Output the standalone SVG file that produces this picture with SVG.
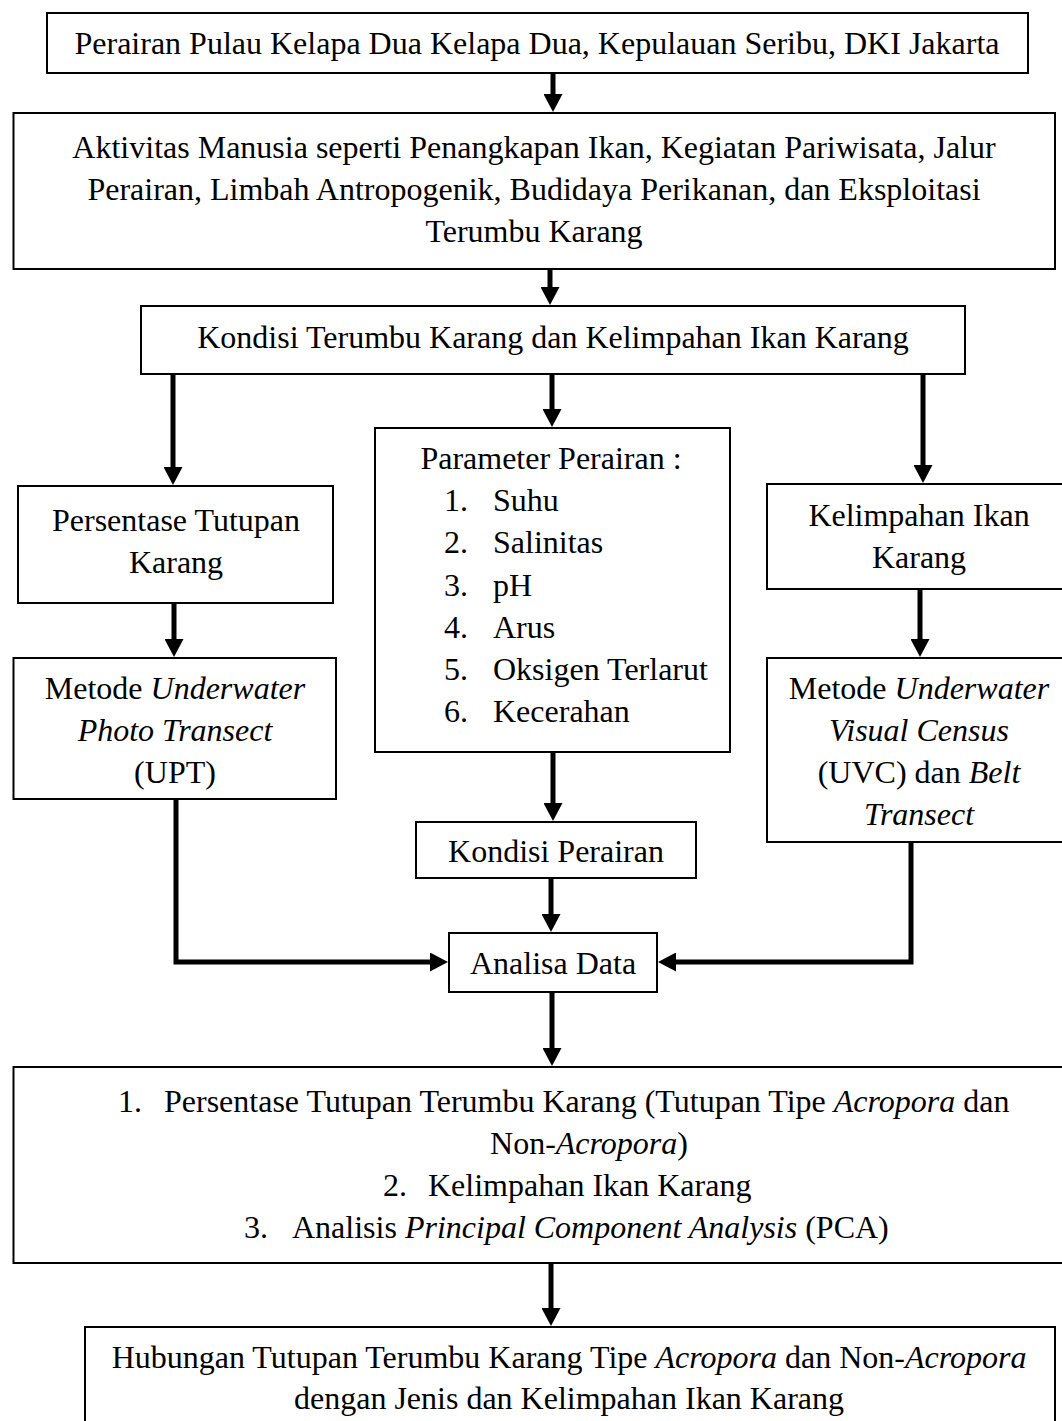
<svg xmlns="http://www.w3.org/2000/svg" width="1062" height="1421" viewBox="0 0 1062 1421">
<style>
.box{fill:#fff;stroke:#000;stroke-width:2}
text{font-family:"Liberation Serif","Times New Roman",serif;font-size:32px;fill:#000}
.c{text-anchor:middle}
.i{font-style:italic}
.con{fill:none;stroke:#000;stroke-width:5}
</style>
<defs>
<marker id="ah" markerUnits="userSpaceOnUse" markerWidth="18" markerHeight="19" refX="0" refY="9.5" orient="auto" viewBox="0 0 18 19">
<path d="M0,0 L18,9.5 L0,19 z" fill="#000"/>
</marker>
</defs>
<rect width="1062" height="1421" fill="#fff"/>
<g id="connectors">
<path class="con" marker-end="url(#ah)" d="M553,73 V94"/>
<path class="con" marker-end="url(#ah)" d="M550,269 V287"/>
<path class="con" marker-end="url(#ah)" d="M173,374 V467"/>
<path class="con" marker-end="url(#ah)" d="M552,374 V409"/>
<path class="con" marker-end="url(#ah)" d="M923,374 V465"/>
<path class="con" marker-end="url(#ah)" d="M174,603 V639"/>
<path class="con" marker-end="url(#ah)" d="M920,589 V639"/>
<path class="con" marker-end="url(#ah)" d="M553,752 V803"/>
<path class="con" marker-end="url(#ah)" d="M551,878 V914"/>
<path class="con" marker-end="url(#ah)" d="M176,799 V962 H430"/>
<path class="con" marker-end="url(#ah)" d="M911,842 V962 H676"/>
<path class="con" marker-end="url(#ah)" d="M552,992 V1048"/>
<path class="con" marker-end="url(#ah)" d="M551,1263 V1308"/>
</g>
<g id="n1">
<rect class="box" x="47" y="13" width="981" height="60"/>
<text class="c" x="537" y="54">Perairan Pulau Kelapa Dua Kelapa Dua, Kepulauan Seribu, DKI Jakarta</text>
</g>
<g id="n2">
<rect class="box" x="13.5" y="113" width="1041.5" height="156"/>
<text class="c" x="534" y="158">Aktivitas Manusia seperti Penangkapan Ikan, Kegiatan Pariwisata, Jalur</text>
<text class="c" x="534" y="200">Perairan, Limbah Antropogenik, Budidaya Perikanan, dan Eksploitasi</text>
<text class="c" x="534" y="242">Terumbu Karang</text>
</g>
<g id="n3">
<rect class="box" x="141" y="306" width="824" height="68"/>
<text class="c" x="553" y="348">Kondisi Terumbu Karang dan Kelimpahan Ikan Karang</text>
</g>
<g id="n4">
<rect class="box" x="18" y="486" width="315" height="117"/>
<text class="c" x="176" y="531">Persentase Tutupan</text>
<text class="c" x="176" y="573">Karang</text>
</g>
<g id="n5">
<rect class="box" x="375" y="428" width="355" height="324"/>
<text class="c" x="551" y="469">Parameter Perairan :</text>
<text x="444" y="511">1.</text><text x="493" y="511">Suhu</text>
<text x="444" y="553">2.</text><text x="493" y="553">Salinitas</text>
<text x="444" y="596">3.</text><text x="493" y="596">pH</text>
<text x="444" y="638">4.</text><text x="493" y="638">Arus</text>
<text x="444" y="680">5.</text><text x="493" y="680">Oksigen Terlarut</text>
<text x="444" y="722">6.</text><text x="493" y="722">Kecerahan</text>
</g>
<g id="n6">
<rect class="box" x="767" y="484" width="300" height="105"/>
<text class="c" x="919" y="526">Kelimpahan Ikan</text>
<text class="c" x="919" y="568">Karang</text>
</g>
<g id="n7">
<rect class="box" x="13.5" y="658" width="322.5" height="141"/>
<text class="c" x="175" y="699">Metode <tspan class="i">Underwater</tspan></text>
<text class="c i" x="175" y="741">Photo Transect</text>
<text class="c" x="175" y="783">(UPT)</text>
</g>
<g id="n8">
<rect class="box" x="767" y="658" width="300" height="184"/>
<text class="c" x="919" y="699">Metode <tspan class="i">Underwater</tspan></text>
<text class="c i" x="919" y="741">Visual Census</text>
<text class="c" x="919" y="783">(UVC) dan <tspan class="i">Belt</tspan></text>
<text class="c i" x="919" y="825">Transect</text>
</g>
<g id="n9">
<rect class="box" x="416" y="822" width="280" height="56"/>
<text class="c" x="556" y="862">Kondisi Perairan</text>
</g>
<g id="n10">
<rect class="box" x="449" y="933" width="208" height="59"/>
<text class="c" x="553" y="974">Analisa Data</text>
</g>
<g id="n11">
<rect class="box" x="13.5" y="1067" width="1060" height="196"/>
<text x="118" y="1112">1.</text>
<text x="164" y="1112">Persentase Tutupan Terumbu Karang (Tutupan Tipe <tspan class="i">Acropora</tspan> dan</text>
<text class="c" x="589" y="1154">Non-<tspan class="i">Acropora</tspan>)</text>
<text x="383" y="1196">2.</text>
<text x="428" y="1196">Kelimpahan Ikan Karang</text>
<text x="244" y="1238">3.</text>
<text x="292" y="1238">Analisis <tspan class="i">Principal Component Analysis</tspan> (PCA)</text>
</g>
<g id="n12">
<rect class="box" x="85" y="1327" width="970" height="110"/>
<text class="c" x="569" y="1368">Hubungan Tutupan Terumbu Karang Tipe <tspan class="i">Acropora</tspan> dan Non-<tspan class="i">Acropora</tspan></text>
<text class="c" x="569" y="1409">dengan Jenis dan Kelimpahan Ikan Karang</text>
</g>
</svg>
